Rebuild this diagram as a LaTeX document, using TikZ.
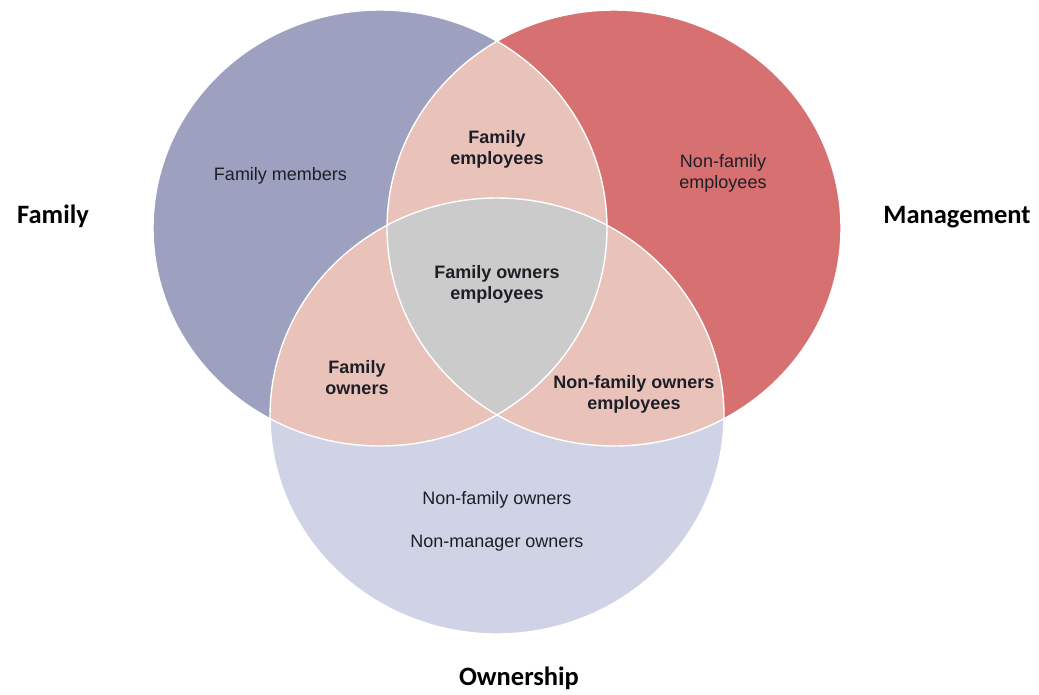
\documentclass[tikz,border=0pt]{standalone}
\usepackage{fontspec}
\setmainfont{Liberation Sans}
\newfontfamily\headfont{Carlito}
\definecolor{famcol}{HTML}{9DA1BF}
\definecolor{mgtcol}{HTML}{D77070}
\definecolor{owncol}{HTML}{D0D3E6}
\definecolor{paircol}{HTML}{E9C3BA}
\definecolor{allcol}{HTML}{CBCBCB}
\definecolor{txtcol}{HTML}{1E1E26}
\begin{document}
\begin{tikzpicture}[x=1pt,y=-1pt,
  setshape/.style={x radius=227pt, y radius=218pt},
  region/.style={font=\fontsize{18}{21}\selectfont, text=txtcol, align=center, inner sep=0pt, anchor=base},
  regionb/.style={region, font=\fontsize{18}{21}\selectfont\bfseries},
  setname/.style={font=\headfont\bfseries\fontsize{26.5}{30}\selectfont, text=black, inner sep=0pt, anchor=base}
]
\useasboundingbox (0,0) rectangle (1039,694);

% centres of the three sets
\coordinate (F) at (380,228);
\coordinate (M) at (614,228);
\coordinate (O) at (497,416);

% single-set areas
\fill[famcol] (F) ellipse [setshape];
\fill[mgtcol] (M) ellipse [setshape];
\fill[owncol] (O) ellipse [setshape];

% pairwise overlaps
\begin{scope}
  \clip (F) ellipse [setshape];
  \fill[paircol] (M) ellipse [setshape];
  \fill[paircol] (O) ellipse [setshape];
\end{scope}
\begin{scope}
  \clip (M) ellipse [setshape];
  \fill[paircol] (O) ellipse [setshape];
\end{scope}

% triple overlap
\begin{scope}
  \clip (F) ellipse [setshape];
  \clip (M) ellipse [setshape];
  \fill[allcol] (O) ellipse [setshape];
\end{scope}

% white borders between the areas
\draw[white, line width=1.4pt] (F) ellipse [setshape];
\draw[white, line width=1.4pt] (M) ellipse [setshape];
\draw[white, line width=1.4pt] (O) ellipse [setshape];

% area labels (two-line labels are placed by their last baseline)
\node[region]  (famonly) at (280.5,180) {Family members};
\node[region]  (mgtonly) at (723,188)   {Non-family\\employees};
\node[regionb] (fammgt)  at (497,164)   {Family\\employees};
\node[regionb] (all)     at (497,299)   {Family owners\\employees};
\node[regionb] (famown)  at (357,394)   {Family\\owners};
\node[regionb] (mgtown)  at (634,409)   {Non-family owners\\employees};
\node[region]  (ownonly) at (497,504)   {Non-family owners};
\node[region]  (ownnm)   at (497,547)   {Non-manager owners};

% set names
\node[setname] (famname) at (53,223)  {Family};
\node[setname] (mgtname) at (957,223) {Management};
\node[setname] (ownname) at (519,685) {Ownership};
\end{tikzpicture}
\end{document}
